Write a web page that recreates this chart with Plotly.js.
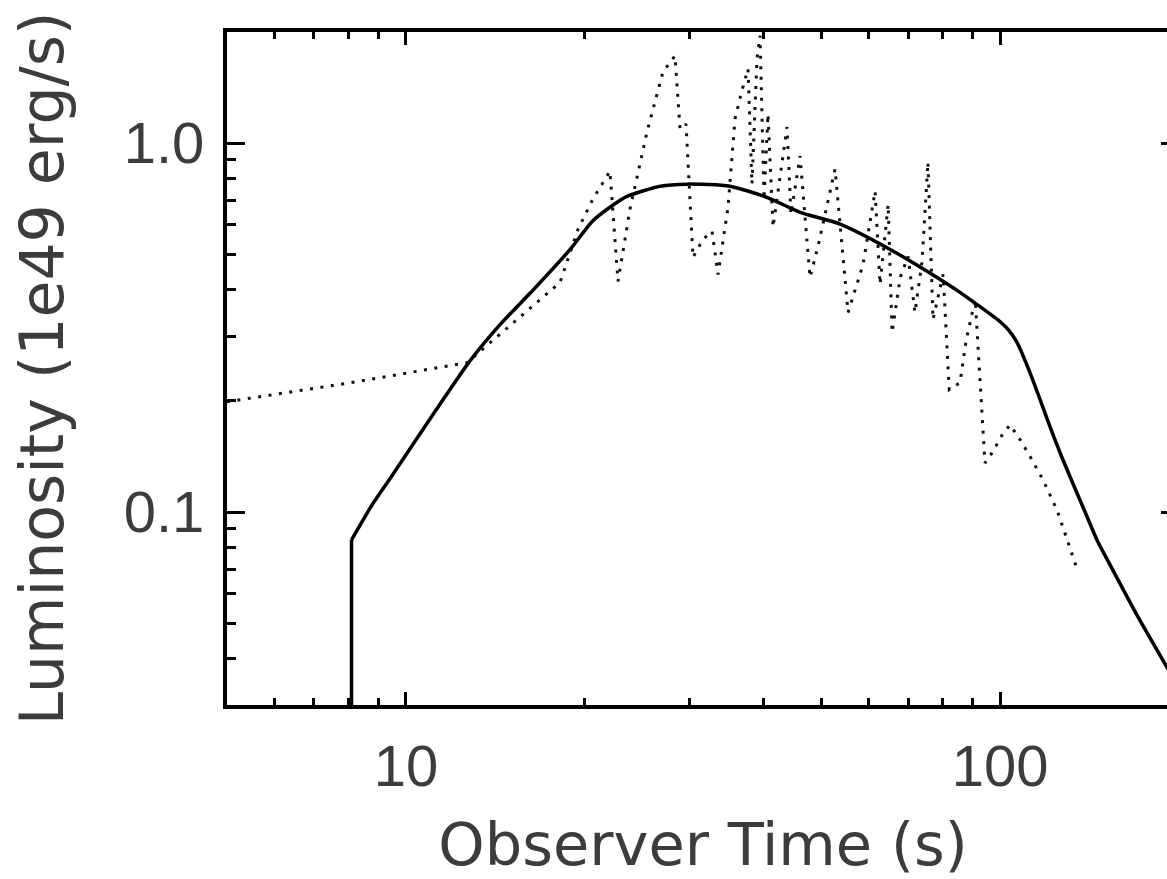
<!DOCTYPE html>
<html>
<head>
<meta charset="utf-8">
<script src="https://cdn.plot.ly/plotly-3.0.1.min.js"></script>
<style>
html, body { margin: 0; padding: 0; background: #fff; overflow: hidden; }
#chart { width: 1190px; height: 879px; }
</style>
</head>
<body>
<div id="chart"></div>
<script>
// Model light curve (solid): first two points are the sharp vertical onset
const modelTime = [8.1, 8.1, 8.77, 9.47, 11.1, 12.8, 14.4, 16.4, 18.9, 20.6, 22.05, 23.6, 26.8, 29.7, 35.1, 40.5, 46.1, 53.8, 65.3, 79.3, 85.6, 100.0, 103.2, 106.8, 112.3, 116.8, 121.4, 127.6, 139.0, 145.6, 153.2, 170.8, 191.0, 200];
const modelLum  = [0.01, 0.084, 0.1045, 0.1253, 0.1835, 0.256, 0.322, 0.401, 0.515, 0.614, 0.670, 0.718, 0.764, 0.774, 0.764, 0.713, 0.649, 0.603, 0.515, 0.427, 0.394, 0.328, 0.312, 0.288, 0.2385, 0.2015, 0.170, 0.1384, 0.100, 0.0839, 0.0718, 0.0518, 0.0379, 0.0334];

// Observed light curve (dotted)
const obsTime = [5.0, 8.05, 12.67, 14.39, 16.36, 18.17, 19.48, 20.64, 22.05, 22.75, 23.83, 25.45, 27.08, 28.37, 28.93, 29.61, 30.42, 31.62, 32.75, 33.52, 34.84, 35.80, 36.64, 37.65, 38.23, 38.98, 39.45, 40.06, 40.68, 41.48, 43.79, 44.47, 46.06, 47.87, 49.38, 52.75, 55.48, 58.8, 61.6, 62.8, 64.8, 65.8, 67.9, 70.0, 71.9, 73.9, 75.6, 77.1, 80.2, 82.1, 85.6, 87.7, 90.8, 94.3, 96.9, 100.8, 103.9, 108.1, 113.2, 118.1, 124.7, 131.2, 135.3];
const obsLum  = [0.199, 0.224, 0.254, 0.303, 0.3606, 0.419, 0.584, 0.705, 0.839, 0.4217, 0.662, 1.071, 1.56, 1.723, 1.091, 1.126, 0.49, 0.548, 0.577, 0.4406, 0.67, 1.162, 1.358, 1.589, 0.774, 1.69, 1.954, 0.705, 1.199, 0.5916, 1.105, 0.641, 0.922, 0.4325, 0.525, 0.850, 0.3475, 0.469, 0.741, 0.414, 0.682, 0.3065, 0.4325, 0.493, 0.3475, 0.4778, 0.888, 0.3327, 0.4406, 0.2148, 0.224, 0.2934, 0.3767, 0.1358, 0.1446, 0.1618, 0.1723, 0.157, 0.1384, 0.1222, 0.1012, 0.0789, 0.0687];

// Axis ticks
const xMajorVals = [10, 100];
const xMajorText = ['10', '100'];
const xMinorVals = [6, 7, 8, 9, 20, 30, 40, 50, 60, 70, 80, 90];
const yMajorVals = [0.1, 1.0];
const yMajorText = ['0.1', '1.0'];
const yMinorVals = [0.04, 0.05, 0.06, 0.07, 0.08, 0.09, 0.2, 0.3, 0.4, 0.5, 0.6, 0.7, 0.8, 0.9];

const titleFont = 'DejaVu Sans, Liberation Sans, sans-serif';
const tickFont = 'Liberation Sans, Arial, sans-serif';
const txtColor = '#3c3c3c';

const traces = [
  {
    x: obsTime, y: obsLum, type: 'scatter', mode: 'lines',
    line: { color: '#111111', width: 3, dash: '3px,7.5px' },
    hoverinfo: 'skip', showlegend: false
  },
  {
    // vertical onset of the model curve
    x: modelTime.slice(0, 2), y: modelLum.slice(0, 2), type: 'scatter', mode: 'lines',
    line: { color: '#000000', width: 3.5 },
    hoverinfo: 'skip', showlegend: false
  },
  {
    x: modelTime.slice(1), y: modelLum.slice(1), type: 'scatter', mode: 'lines',
    line: { color: '#000000', width: 3.5, shape: 'spline', smoothing: 0.6 },
    hoverinfo: 'skip', showlegend: false
  }
];

const layout = {
  width: 1190, height: 879,
  margin: { l: 227, r: 11, t: 32, b: 174 },
  paper_bgcolor: '#ffffff', plot_bgcolor: '#ffffff',
  showlegend: false,
  xaxis: {
    type: 'log', range: [Math.log10(5), Math.log10(200)],
    showgrid: false, zeroline: false,
    showline: true, linecolor: '#000', linewidth: 4, mirror: 'allticks',
    ticks: 'inside', ticklen: 13, tickwidth: 3, tickcolor: '#000',
    tickmode: 'array', tickvals: xMajorVals, ticktext: xMajorText,
    minor: { tickmode: 'array', tickvals: xMinorVals, ticks: 'inside', ticklen: 7, tickwidth: 3, tickcolor: '#000', showgrid: false },
    tickfont: { family: tickFont, size: 58, color: txtColor },
    ticklabelstandoff: 7,
    title: { text: 'Observer Time (s)', font: { family: titleFont, size: 59, color: txtColor }, standoff: 32 }
  },
  yaxis: {
    type: 'log', range: [Math.log10(0.03), Math.log10(2)],
    showgrid: false, zeroline: false,
    showline: true, linecolor: '#000', linewidth: 4, mirror: 'allticks',
    ticks: 'inside', ticklen: 18, tickwidth: 3, tickcolor: '#000',
    tickmode: 'array', tickvals: yMajorVals, ticktext: yMajorText,
    minor: { tickmode: 'array', tickvals: yMinorVals, ticks: 'inside', ticklen: 9, tickwidth: 3, tickcolor: '#000', showgrid: false },
    tickfont: { family: tickFont, size: 58, color: txtColor },
    ticklabelstandoff: 7,
    title: { text: 'Luminosity (1e49 erg/s)', font: { family: titleFont, size: 60, color: txtColor }, standoff: 42 }
  }
};

Plotly.newPlot('chart', traces, layout, { staticPlot: true, displayModeBar: false });
</script>
</body>
</html>
